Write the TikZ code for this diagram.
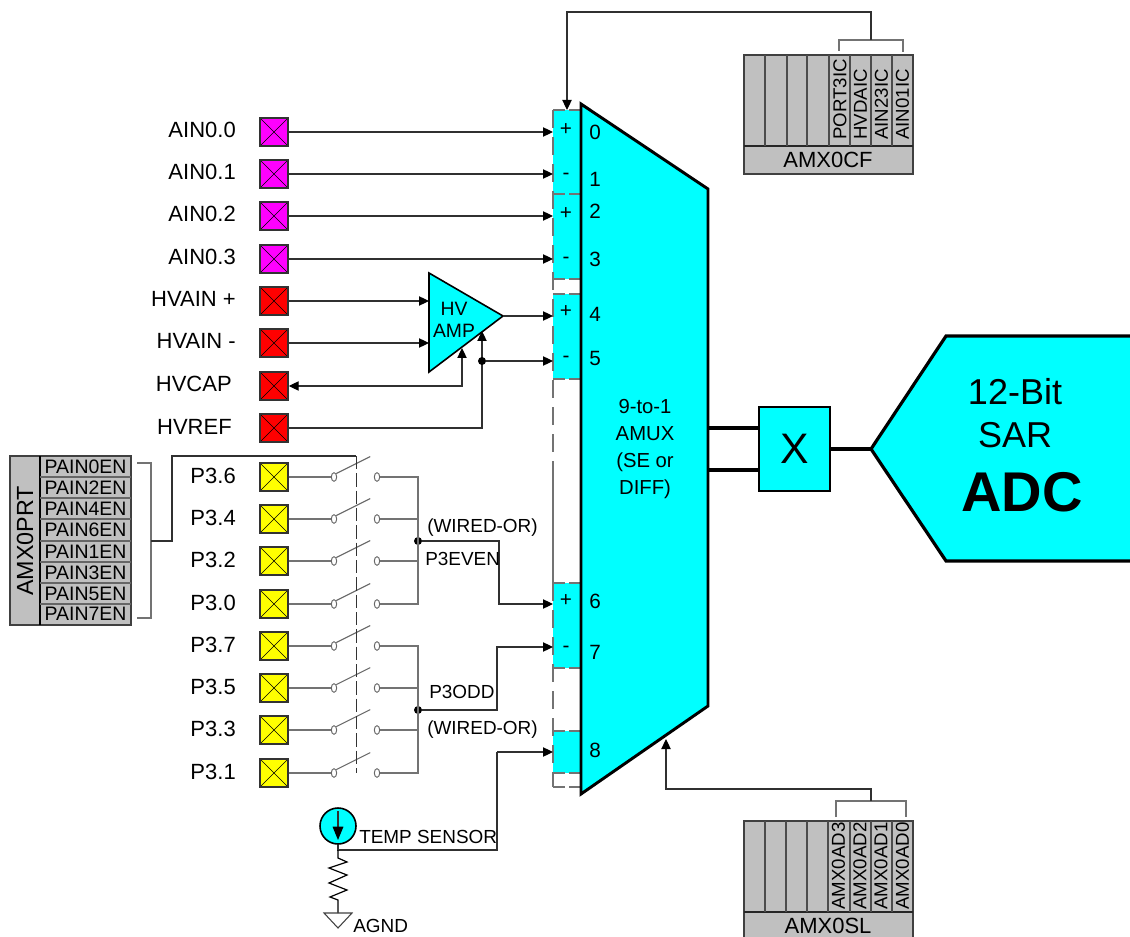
\documentclass[tikz,border=0pt]{standalone}
\usepackage{fontspec}
\setmainfont{Liberation Sans}
\usetikzlibrary{arrows.meta,calc,shapes.geometric}
\definecolor{wire}{HTML}{303030}
\definecolor{regfill}{HTML}{C0C0C0}
\definecolor{muxcyan}{HTML}{00FFFF}
\definecolor{padmag}{HTML}{FF00FF}
\definecolor{padred}{HTML}{FF0000}
\definecolor{padyel}{HTML}{FFFF00}
\tikzset{
  txtL/.style={font=\fontsize{16.5}{18}\selectfont,inner sep=0pt,text=black},
  txtM/.style={font=\fontsize{15.5}{17}\selectfont,inner sep=0pt,text=black},
  txtS/.style={font=\fontsize{14.2}{15}\selectfont,inner sep=0pt,text=black},
  txtR/.style={font=\fontsize{14}{15}\selectfont,inner sep=0pt,text=black},
  pad/.style={draw=black!80,line width=1.1pt,minimum size=21pt,inner sep=0pt,
    path picture={\draw[black,line width=.5pt] (path picture bounding box.north west)--(path picture bounding box.south east)
      (path picture bounding box.north east)--(path picture bounding box.south west);}},
  wireline/.style={draw=wire,line width=.85pt},
  greyline/.style={draw=black!55,line width=1pt},
  arr/.style={wireline,-{Triangle[length=7.5pt,width=7pt,black]}},
  heavy/.style={draw=black,line width=2.2pt},
  reg/.style={draw=black!75,line width=1pt,fill=regfill},
  portfill/.style={fill=muxcyan,draw=none},
  dot/.style={circle,fill=black,inner sep=0pt,minimum size=6pt},
  contact/.style={ellipse,draw=black!60,line width=.7pt,fill=white,minimum width=4pt,minimum height=6.5pt,inner sep=0pt},
}
\begin{document}
\begin{tikzpicture}[x=.75pt,y=-.75pt]
\useasboundingbox (0,0) rectangle (1130,937);

% port fills
\foreach \a/\b in {110/194,194/279,294/379,583/668,731/773}
  \path[portfill] (553,\a) rectangle (581,\b);
% dashed frame
\draw[draw=black!55,line width=1pt,dash pattern=on 13.5pt off 6.75pt] (553,110) -- (553,477);
\draw[draw=black!55,line width=1pt] (553,477) -- (553,583);
\draw[draw=black!55,line width=1pt,dash pattern=on 13.5pt off 6.75pt] (553,583) -- (553,787);
\foreach \y in {110,194,279,294,379,583,668,731,773,787}
  \draw[draw=black!55,line width=1pt,dash pattern=on 9pt off 3pt] (553,\y) -- (581,\y);

% multiplexer
\draw[heavy,fill=muxcyan,line join=miter] (581,104) -- (708,189) -- (708,706) -- (581,794) -- cycle;
\coordinate (muxbl) at (666,739);
\node[txtM,align=center,font=\fontsize{15.2}{20.4}\selectfont] (amux) at (645,449) {9-to-1\\AMUX\\(SE or\\DIFF)};

% port numbers
\foreach \n/\y in {0/132,1/179,2/211,3/259,4/314,5/358,6/601,7/652,8/750}
  \node[txtM] (num\n) at (595,\y) {\n};
\foreach \n/\s/\y in {0/+/130,1/-/176,2/+/214,3/-/260,4/+/312,5/-/359,6/+/601,7/-/649}
  \node[txtM] (sgn\n) at (566,\y) {\s};

% port wire ends
\foreach \n/\y in {0/132,1/174,2/216,3/259,4/316,5/361,6/604,7/647,8/752}
  \coordinate (p\n) at (553,\y);

% pads
\foreach \n/\t/\y/\c/\e in {a0/AIN0.0/132/padmag/236,a1/AIN0.1/174/padmag/236,a2/AIN0.2/216/padmag/236,a3/AIN0.3/259/padmag/236,
   hp/HVAIN +/301/padred/236,hm/HVAIN -/343/padred/236,hc/HVCAP/386/padred/232,hr/HVREF/428/padred/232}{
  \node[pad,fill=\c] (\n) at (274,\y) {};
  \node[txtL,anchor=base east] (l\n) at (\e,\y+6) {\t};
}
\foreach \n/\t/\y in {p36/P3.6/477,p34/P3.4/519,p32/P3.2/561,p30/P3.0/604,p37/P3.7/646,p35/P3.5/688,p33/P3.3/730,p31/P3.1/773}{
  \node[pad,fill=padyel] (\n) at (274,\y) {};
  \node[txtL,anchor=base east] (l\n) at (236,\y+6) {\t};
  \node[contact] (cl\n) at (334,\y) {};
  \node[contact] (cr\n) at (377,\y) {};
  \draw[greyline] (\n.east) -- (cl\n.west);
  \draw[draw=black!60,line width=.8pt] (cl\n.north east) -- ++(34,-17);
}

% AIN wires
\draw[arr] (a0.east) -- (p0);
\draw[arr] (a1.east) -- (p1);
\draw[arr] (a2.east) -- (p2);
\draw[arr] (a3.east) -- (p3);

% HV amp
\coordinate (amptop) at (429,273);
\coordinate (ampout) at (503,316);
\coordinate (ampbot) at (429,372);
\draw[draw=black,line width=1.2pt,fill=muxcyan,line join=miter] (amptop) -- (ampout) -- (ampbot) -- cycle;
\node[txtM,align=center,font=\fontsize{14.5}{16.5}\selectfont] (amp) at (454,320) {HV\\AMP};
\draw[arr] (hp.east) -- (429,301);
\draw[arr] (hm.east) -- (429,343);
\draw[arr] (ampout) -- (p4);
\coordinate (capup) at (462,348);
\coordinate (refup) at (482,331);
\draw[arr,{Triangle[length=7.5pt,width=7pt,black]}-{Triangle[length=7.5pt,width=7pt,black]}] (hc.east) -| (capup);
\draw[arr] (hr.east) -| (refup);
\node[dot] (refdot) at (482,361) {};
\draw[arr] (refdot) -- (p5);

% P3 even bus
\coordinate (evtop) at (418,477);
\coordinate (evbot) at (418,604);
\node[dot] (evdot) at (418,541) {};
\draw[greyline] (crp36.east) -- (evtop) -- (evbot) -- (crp30.east);
\draw[greyline] (crp34.east) -- (418,519);
\draw[greyline] (crp32.east) -- (418,561);
\draw[arr] (evdot) -- (499,541) -- (499,604) -- (p6);
\node[txtS,anchor=base west] (w1) at (427,532) {(WIRED-OR)};
\node[txtS,anchor=base west] (ev) at (425,565) {P3EVEN};

% P3 odd bus
\coordinate (odtop) at (418,646);
\coordinate (odbot) at (418,773);
\node[dot] (oddot) at (418,710) {};
\draw[greyline] (crp37.east) -- (odtop) -- (odbot) -- (crp31.east);
\draw[greyline] (crp35.east) -- (418,688);
\draw[greyline] (crp33.east) -- (418,730);
\draw[arr] (oddot) -- (497,710) -- (497,647) -- (p7);
\node[txtS,anchor=base west] (od) at (429,698) {P3ODD};
\node[txtS,anchor=base west] (w2) at (427,734) {(WIRED-OR)};

% gang line
\coordinate (gang) at (356,456);
\coordinate (gangend) at (356,773);
\draw[draw=black!80,line width=.7pt,dash pattern=on 10pt off 3pt] (gang) -- (gangend);

% AMX0PRT
\draw[reg] (10,456) rectangle (131,625);
\draw[draw=black,line width=1pt] (40,456) -- (40,625);
\foreach \y in {477,498,519,541,562,583,604}
  \draw[draw=black!60,line width=1pt] (40,\y) -- (131,\y);
\foreach \t/\y in {PAIN0EN/466,PAIN2EN/487,PAIN4EN/508,PAIN6EN/529,PAIN1EN/551,PAIN3EN/572,PAIN5EN/593,PAIN7EN/613}
  \node[txtS,font=\fontsize{14.6}{15}\selectfont,anchor=base] (n\t) at (85.5,\y+7) {\t};
\node[txtL,font=\fontsize{17.5}{18}\selectfont,rotate=90] (amx0prt) at (25,541) {AMX0PRT};
\coordinate (pr1) at (137,463);
\coordinate (pr2) at (137,618);
\draw[greyline] (pr1) -- (151,463) -- (151,618) -- (pr2);
\draw[wireline] (151,541) -- (172,541) -- (172,456) -- (gang);

% Temp sensor
\node[circle,draw=black,line width=1.2pt,fill=muxcyan,minimum size=27pt,inner sep=0pt] (temp) at (338,826) {};
\draw[wireline,-{Triangle[length=10pt,width=8pt,black]}] (338,811) -- (338,840);
\coordinate (r1) at (338,858);
\coordinate (r2) at (338,900);
\coordinate (gnd) at (338,913);
\draw[wireline] (temp.south) -- (338,850) -- (497,850) -- (497,752);
\draw[arr] (497,752) -- (p8);
\draw[draw=black,line width=.9pt,line join=miter] (338,850) -- (r1) -- (347,862) -- (329,868) -- (347,875) -- (329,883) -- (347,890) -- (330,897) -- (r2) -- (gnd);
\draw[draw=black!75,line width=.8pt] (324,913) -- (352,913) -- (338,928) -- cycle;
\node[txtS,anchor=base west] (tl) at (359,843) {TEMP SENSOR};
\node[txtS,anchor=base west] (agnd) at (353,932) {AGND};

% AMX0CF
\draw[reg] (744,55) rectangle (913,174);
\draw[draw=black!85,line width=1pt] (744,146) -- (913,146);
\foreach \x in {765,787,807,829,850,871,892}
  \draw[draw=black!70,line width=1pt] (\x,55) -- (\x,146);
\foreach \t/\x in {PORT3IC/840,HVDAIC/860.5,AIN23IC/881.5,AIN01IC/902.5}
  \node[txtR,rotate=90,anchor=west] (n\t) at (\x,140) {\t};
\node[txtL] (amx0cf) at (828,160) {AMX0CF};
\coordinate (cf1) at (839,51);
\coordinate (cf2) at (903,52);
\draw[greyline] (cf1) -- (839,40) -- (903,40) -- (cf2);
\draw[arr] (871,40) -- (871,12) -- (567,12) -- (567,110);

% AMX0SL
\draw[reg] (744,821) rectangle (913,940);
\draw[draw=black!85,line width=1pt] (744,912) -- (913,912);
\foreach \x in {765,786,807,828,850,871,892}
  \draw[draw=black!70,line width=1pt] (\x,821) -- (\x,912);
\foreach \t/\x in {AMX0AD3/838.5,AMX0AD2/860,AMX0AD1/881,AMX0AD0/902.5}
  \node[txtR,rotate=90,anchor=west] (n\t) at (\x,910) {\t};
\node[txtL] (amx0sl) at (828,926) {AMX0SL};
\coordinate (sl1) at (836,817);
\coordinate (sl2) at (906,817);
\draw[greyline] (sl1) -- (836,801) -- (906,801) -- (sl2);
\draw[arr] (871,801) -- (871,789) -- (666,789) -- (muxbl);

% X block and ADC
\node[draw=black,line width=1.5pt,fill=muxcyan,minimum width=53pt,minimum height=63pt,inner sep=0pt,font=\fontsize{32}{34}\selectfont] (xb) at (794.5,449) {X};
\draw[heavy,line width=2.4pt] (708,428) -- (xb.west |- 0,428);
\draw[heavy,line width=2.4pt] (708,470) -- (xb.west |- 0,470);
\coordinate (adctip) at (871,449);
\draw[heavy,line width=2.4pt] (xb.east) -- (adctip);
\fill[muxcyan] (1131,336) -- (946,336) -- (adctip) -- (946,561) -- (1131,561) -- cycle;
\draw[heavy,line width=2.4pt,line join=miter] (1131,336) -- (946,336) -- (adctip) -- (946,561) -- (1131,561);
\node[font=\fontsize{27}{28}\selectfont,inner sep=0pt] (b12) at (1015,392) {12-Bit};
\node[font=\fontsize{27}{28}\selectfont,inner sep=0pt] (sar) at (1015,435) {SAR};
\node[font=\bfseries\fontsize{42}{44}\selectfont,inner sep=0pt] (adc) at (1022,492) {ADC};
\end{tikzpicture}
\end{document}
